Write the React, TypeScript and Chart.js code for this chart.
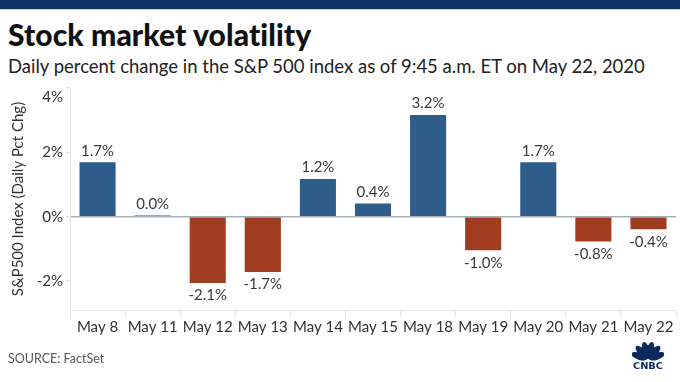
import React, { useEffect, useRef } from "react";
import { Chart, registerables } from "chart.js";

Chart.register(...registerables);

const categories = ["May 8", "May 11", "May 12", "May 13", "May 14", "May 15", "May 18", "May 19", "May 20", "May 21", "May 22"];
const values = [1.69, 0.04, -2.06, -1.72, 1.17, 0.41, 3.16, -1.04, 1.69, -0.77, -0.39];
const valueLabels = ["1.7%", "0.0%", "-2.1%", "-1.7%", "1.2%", "0.4%", "3.2%", "-1.0%", "1.7%", "-0.8%", "-0.4%"];
const yTicks = [-2, 0, 2, 4];

const FONT = "Lato, 'Open Sans', sans-serif";
const UP = "#2E5D8A";
const DOWN = "#A03D20";

const labelPlugin = {
  id: "valueLabels",
  afterDatasetsDraw(chart: any) {
    const ctx = chart.ctx;
    const meta = chart.getDatasetMeta(0);
    ctx.save();
    ctx.font = `15px ${FONT}`;
    ctx.fillStyle = "#3a3a3a";
    ctx.textAlign = "center";
    meta.data.forEach((bar: any, i: number) => {
      const v = values[i];
      if (v >= 0) {
        ctx.textBaseline = "bottom";
        ctx.fillText(valueLabels[i], bar.x, bar.y - 4);
      } else {
        ctx.textBaseline = "top";
        ctx.fillText(valueLabels[i], bar.x, bar.y + 5);
      }
    });
    // top y tick label kept inside the plot, as in the source chart
    const y = chart.scales.y;
    const top = yTicks[yTicks.length - 1];
    ctx.font = `15px ${FONT}`;
    ctx.fillStyle = "#333";
    ctx.textAlign = "right";
    ctx.textBaseline = "middle";
    ctx.fillText(`${top}%`, y.right - 7, y.getPixelForValue(top) + 9);
    ctx.restore();
  },
};

function Logo() {
  const feathers = [-72, -43, -14, 14, 43, 72];
  return (
    <svg width="32" height="28" viewBox="0 0 32 28" style={{ position: "absolute", left: 632, top: 341 }}>
      {feathers.map((a, i) => (
        <ellipse key={i} cx="16" cy="9" rx="3.6" ry="8.5" fill="#0B2A5E" transform={`rotate(${a} 16 18)`} />
      ))}
      <text x="16" y="27.5" textAnchor="middle" fontFamily="'DejaVu Sans', sans-serif" fontWeight="bold" fontSize="9.5" fill="#0B2A5E" textLength="30" lengthAdjust="spacingAndGlyphs">CNBC</text>
    </svg>
  );
}

export default function App() {
  const ref = useRef<HTMLCanvasElement | null>(null);
  useEffect(() => {
    if (!ref.current) return;
    const chart = new Chart(ref.current, {
      type: "bar",
      data: {
        labels: categories,
        datasets: [
          {
            data: values,
            backgroundColor: values.map((v) => (v >= 0 ? UP : DOWN)),
            borderWidth: 0,
            barPercentage: 0.655,
            categoryPercentage: 1,
          },
        ],
      },
      options: {
        animation: false,
        responsive: false,
        maintainAspectRatio: false,
        layout: { padding: { left: 0, top: 88, right: 4, bottom: 42 } },
        plugins: { legend: { display: false }, tooltip: { enabled: false } },
        scales: {
          x: {
            offset: true,
            afterFit: (s: any) => { s.height = 30; },
            grid: { display: true, drawOnChartArea: false, drawTicks: true, tickLength: 7, color: "#E4E4E4", offset: true },
            border: { display: true, color: "#E4E4E4" },
            ticks: { color: "#333", font: { family: FONT, size: 15 }, padding: 1, maxRotation: 0, autoSkip: false },
          },
          y: {
            min: -2.9,
            max: 4,
            afterFit: (s: any) => { s.width = 70; },
            afterBuildTicks: (s: any) => { s.ticks = yTicks.map((v) => ({ value: v })); },
            grid: {
              drawTicks: true,
              tickLength: 4,
              color: (c: any) => (c.tick && c.tick.value === 0 ? "#A3AFB9" : "rgba(0,0,0,0)"),
              tickColor: "#E4E4E4",
              lineWidth: 1.5,
            },
            border: { display: true, color: "#E4E4E4" },
            ticks: {
              color: "#333",
              font: { family: FONT, size: 15 },
              padding: 3,
              callback: (v: any) => (v === yTicks[yTicks.length - 1] ? "" : `${v}%`),
            },
            title: {
              display: true,
              text: "S&P500 Index (Daily Pct Chg)",
              color: "#333",
              font: { family: FONT, size: 15 },
              padding: { top: 9, bottom: 0 },
            },
          },
        },
      },
      plugins: [labelPlugin],
    });
    return () => chart.destroy();
  }, []);

  return (
    <div style={{ position: "fixed", left: 0, top: 0, width: 680, height: 382, background: "#fff", overflow: "hidden", fontFamily: FONT }}>
      <div style={{ position: "absolute", left: 0, top: 0, width: 680, height: 9, background: "#0B3068" }} />
      <div style={{ position: "absolute", left: 0, top: 9, width: 680, height: 1, background: "#C8D4E6" }} />
      <div style={{ position: "absolute", left: 8, top: 16, fontSize: 30, fontWeight: 900, color: "#111", whiteSpace: "nowrap", letterSpacing: 0.1 }}>Stock market volatility</div>
      <div style={{ position: "absolute", left: 8, top: 55, fontSize: 18.5, color: "#222", whiteSpace: "nowrap" }}>Daily percent change in the S&amp;P 500 index as of 9:45 a.m. ET on May 22, 2020</div>
      <canvas ref={ref} width={680} height={382} style={{ position: "absolute", left: 0, top: 0 }} />
      <div style={{ position: "absolute", left: 8, top: 351, fontSize: 12.5, color: "#555", whiteSpace: "nowrap" }}>SOURCE: FactSet</div>
      <Logo />
    </div>
  );
}
